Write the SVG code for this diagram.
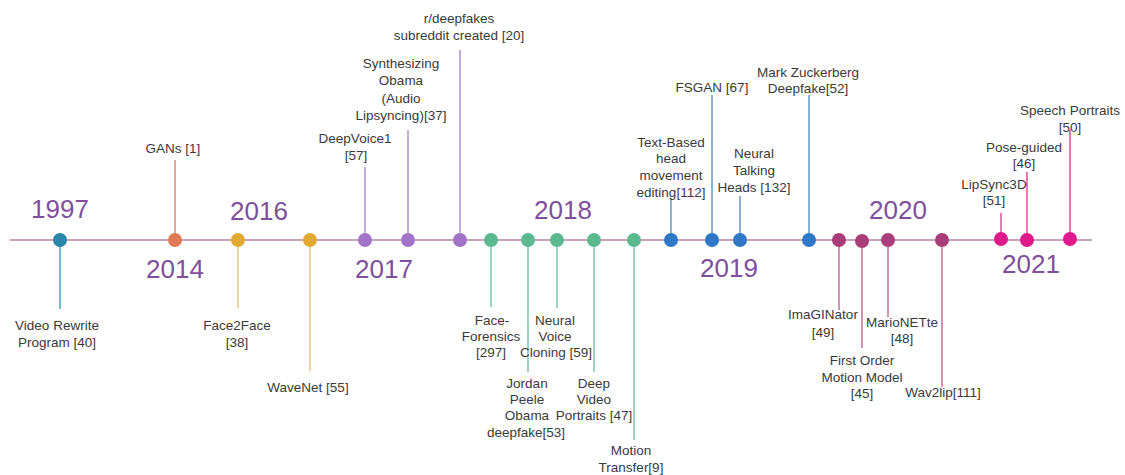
<svg xmlns="http://www.w3.org/2000/svg" width="1125" height="475" viewBox="0 0 1125 475">
<style>
text{font-family:"Liberation Sans",Arial,sans-serif}
.lbl{font-size:13.5px;fill:#3a3a3a;text-anchor:middle}
.yr{font-size:26px;fill:#7f4f9d;text-anchor:middle}
.stem{stroke-width:1.6;fill:none}
.teal{fill:#2b86a8}.orange{fill:#e07a55}.gold{fill:#e2a934}.purple{fill:#a274c9}.green{fill:#5cb88f}.blue{fill:#2f78c8}.maroon{fill:#a83d78}.magenta{fill:#e0198c}
.s-teal{stroke:#5aa7c2}.s-orange{stroke:#d9937e}.s-gold{stroke:#ecc98c}.s-purple{stroke:#b596d6}.s-green{stroke:#86cbb0}.s-blue{stroke:#6f9ccc}.s-maroon{stroke:#c47a9d}.s-magenta{stroke:#e5589f}
</style>
<rect width="1125" height="475" fill="#ffffff"/>
<g id="axis"><line x1="10" y1="240" x2="1092" y2="240" stroke="#c9a3ba" stroke-width="2"/></g>
<g id="years">
<text class="yr" x="60" y="218">1997</text>
<text class="yr" x="175" y="278">2014</text>
<text class="yr" x="259" y="220">2016</text>
<text class="yr" x="384" y="278">2017</text>
<text class="yr" x="563" y="219">2018</text>
<text class="yr" x="729" y="277">2019</text>
<text class="yr" x="898" y="219">2020</text>
<text class="yr" x="1031" y="273">2021</text>
</g>
<g id="connectors" class="stem">
<line class="s-teal" x1="60" y1="240" x2="60" y2="309"/>
<line class="s-orange" x1="175" y1="240" x2="175" y2="160"/>
<line class="s-gold" x1="238" y1="240" x2="238" y2="308"/>
<line class="s-gold" x1="310" y1="240" x2="310" y2="371"/>
<line class="s-purple" x1="365" y1="240" x2="365" y2="167"/>
<line class="s-purple" x1="408" y1="240" x2="408" y2="130"/>
<line class="s-purple" x1="460" y1="240" x2="460" y2="50"/>
<line class="s-green" x1="491" y1="240" x2="491" y2="307"/>
<line class="s-green" x1="528" y1="240" x2="528" y2="372"/>
<line class="s-green" x1="557" y1="240" x2="557" y2="308"/>
<line class="s-green" x1="594" y1="240" x2="594" y2="372"/>
<line class="s-green" x1="634" y1="240" x2="634" y2="440"/>
<line class="s-blue" x1="671" y1="240" x2="671" y2="198"/>
<line class="s-blue" x1="712" y1="240" x2="712" y2="95"/>
<line class="s-blue" x1="740" y1="240" x2="740" y2="196"/>
<line class="s-blue" x1="809" y1="240" x2="809" y2="95"/>
<line class="s-maroon" x1="839" y1="240" x2="839" y2="310"/>
<line class="s-maroon" x1="862" y1="241" x2="862" y2="348"/>
<line class="s-maroon" x1="888" y1="240" x2="888" y2="317"/>
<line class="s-maroon" x1="942" y1="240" x2="942" y2="387"/>
<line class="s-magenta" x1="1001" y1="239" x2="1001" y2="213"/>
<line class="s-magenta" x1="1027" y1="240" x2="1027" y2="172"/>
<line class="s-magenta" x1="1070" y1="239" x2="1070" y2="130"/>
</g>
<g id="n1997"><circle class="teal" cx="60" cy="240" r="7"/><text class="lbl" x="57" y="330">Video Rewrite</text><text class="lbl" x="57" y="347">Program [40]</text></g>
<g id="gans"><circle class="orange" cx="175" cy="240" r="7"/><text class="lbl" x="173" y="153">GANs [1]</text></g>
<g id="face2face"><circle class="gold" cx="238" cy="240" r="7"/><text class="lbl" x="237" y="330">Face2Face</text><text class="lbl" x="237" y="347">[38]</text></g>
<g id="wavenet"><circle class="gold" cx="310" cy="240" r="7"/><text class="lbl" x="308" y="392">WaveNet [55]</text></g>
<g id="deepvoice1"><circle class="purple" cx="365" cy="240" r="7"/><text class="lbl" x="355" y="143">DeepVoice1</text><text class="lbl" x="356" y="160">[57]</text></g>
<g id="synth-obama"><circle class="purple" cx="408" cy="240" r="7"/><text class="lbl" x="401" y="68">Synthesizing</text><text class="lbl" x="401" y="85">Obama</text><text class="lbl" x="401" y="103">(Audio</text><text class="lbl" x="401" y="120">Lipsyncing)[37]</text></g>
<g id="rdeepfakes"><circle class="purple" cx="460" cy="240" r="7"/><text class="lbl" x="459" y="23">r/deepfakes</text><text class="lbl" x="459" y="40">subreddit created [20]</text></g>
<g id="faceforensics"><circle class="green" cx="491" cy="240" r="7"/><text class="lbl" x="492" y="325">Face-</text><text class="lbl" x="491" y="341">Forensics</text><text class="lbl" x="491" y="357">[297]</text></g>
<g id="jordan-peele"><circle class="green" cx="528" cy="240" r="7"/><text class="lbl" x="527" y="388">Jordan</text><text class="lbl" x="527" y="404">Peele</text><text class="lbl" x="527" y="420">Obama</text><text class="lbl" x="526" y="437">deepfake[53]</text></g>
<g id="neural-voice"><circle class="green" cx="557" cy="240" r="7"/><text class="lbl" x="555" y="325">Neural</text><text class="lbl" x="555" y="341">Voice</text><text class="lbl" x="556" y="357">Cloning [59]</text></g>
<g id="deep-video"><circle class="green" cx="594" cy="240" r="7"/><text class="lbl" x="594" y="388">Deep</text><text class="lbl" x="594" y="404">Video</text><text class="lbl" x="594" y="420">Portraits [47]</text></g>
<g id="motion-transfer"><circle class="green" cx="634" cy="240" r="7"/><text class="lbl" x="631" y="455">Motion</text><text class="lbl" x="631" y="472">Transfer[9]</text></g>
<g id="text-based"><circle class="blue" cx="671" cy="240" r="7"/><text class="lbl" x="671" y="147">Text-Based</text><text class="lbl" x="671" y="163">head</text><text class="lbl" x="671" y="180">movement</text><text class="lbl" x="671" y="197">editing[112]</text></g>
<g id="fsgan"><circle class="blue" cx="712" cy="240" r="7"/><text class="lbl" x="712" y="92">FSGAN [67]</text></g>
<g id="talking-heads"><circle class="blue" cx="740" cy="240" r="7"/><text class="lbl" x="754" y="158">Neural</text><text class="lbl" x="754" y="175">Talking</text><text class="lbl" x="754" y="192">Heads [132]</text></g>
<g id="zuckerberg"><circle class="blue" cx="809" cy="240" r="7"/><text class="lbl" x="808" y="77">Mark Zuckerberg</text><text class="lbl" x="808" y="93">Deepfake[52]</text></g>
<g id="imaginator"><circle class="maroon" cx="839" cy="240" r="7"/><text class="lbl" x="823" y="319">ImaGINator</text><text class="lbl" x="823" y="337">[49]</text></g>
<g id="first-order"><circle class="maroon" cx="862" cy="241" r="7"/><text class="lbl" x="862" y="365">First Order</text><text class="lbl" x="862" y="382">Motion Model</text><text class="lbl" x="862" y="398">[45]</text></g>
<g id="marionette"><circle class="maroon" cx="888" cy="240" r="7"/><text class="lbl" x="902" y="327">MarioNETte</text><text class="lbl" x="902" y="343">[48]</text></g>
<g id="wav2lip"><circle class="maroon" cx="942" cy="240" r="7"/><text class="lbl" x="943" y="397">Wav2lip[111]</text></g>
<g id="lipsync3d"><circle class="magenta" cx="1001" cy="239" r="7"/><text class="lbl" x="994" y="189">LipSync3D</text><text class="lbl" x="994" y="205">[51]</text></g>
<g id="pose-guided"><circle class="magenta" cx="1027" cy="240" r="7"/><text class="lbl" x="1024" y="152">Pose-guided</text><text class="lbl" x="1024" y="168">[46]</text></g>
<g id="speech-portraits"><circle class="magenta" cx="1070" cy="239" r="7"/><text class="lbl" x="1070" y="115">Speech Portraits</text><text class="lbl" x="1070" y="132">[50]</text></g>
</svg>
